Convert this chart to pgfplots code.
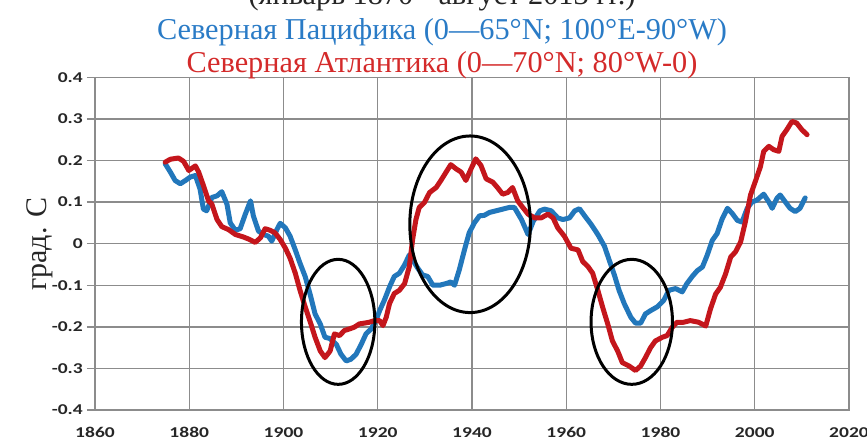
\documentclass[border=0pt]{standalone}
\usepackage{fontspec}
\setmainfont{Liberation Serif}
\newfontfamily\tickfont{Carlito}[FakeStretch=1.3]
\usepackage{graphicx}
\usepackage{pgfplots}
\pgfplotsset{compat=1.18}

\definecolor{pacblue}{HTML}{2277BB}
\definecolor{atlred}{HTML}{C4161C}
\definecolor{titleblue}{HTML}{2A7BC6}
\definecolor{titlered}{HTML}{D42A2A}
\definecolor{gridgray}{HTML}{8C8C8C}

% Smoothed SST anomalies, deg C
\pgfplotstableread{
year val
1874.9 0.192
1876.0 0.172
1877.0 0.152
1878.1 0.144
1879.2 0.152
1880.2 0.160
1881.3 0.164
1882.3 0.131
1883.0 0.083
1883.7 0.079
1884.8 0.111
1885.9 0.115
1886.9 0.125
1888.0 0.095
1888.7 0.050
1889.8 0.032
1890.8 0.036
1891.9 0.071
1893.0 0.103
1893.6 0.067
1894.7 0.030
1895.8 0.022
1896.8 0.018
1897.5 0.006
1898.6 0.034
1899.3 0.049
1900.4 0.038
1901.4 0.018
1902.5 -0.015
1903.5 -0.047
1904.6 -0.079
1905.7 -0.124
1906.7 -0.169
1907.8 -0.193
1908.8 -0.225
1909.8 -0.228
1911.2 -0.242
1912.2 -0.266
1913.3 -0.282
1914.3 -0.278
1915.4 -0.266
1916.5 -0.242
1917.5 -0.217
1918.6 -0.205
1919.6 -0.185
1920.4 -0.161
1921.4 -0.136
1922.5 -0.104
1923.5 -0.079
1924.6 -0.071
1925.7 -0.051
1926.7 -0.027
1927.4 -0.039
1928.5 -0.059
1929.5 -0.075
1930.6 -0.079
1931.7 -0.100
1933.1 -0.100
1934.5 -0.096
1935.5 -0.092
1936.3 -0.100
1937.3 -0.063
1938.4 -0.015
1939.4 0.026
1940.5 0.050
1941.6 0.067
1942.6 0.068
1943.7 0.075
1945.1 0.079
1946.5 0.083
1947.9 0.087
1949.0 0.087
1950.5 0.058
1951.9 0.022
1953.0 0.054
1954.4 0.079
1955.4 0.083
1956.8 0.079
1958.2 0.062
1959.3 0.058
1960.7 0.062
1961.8 0.079
1962.8 0.084
1963.9 0.067
1965.3 0.046
1966.7 0.022
1968.1 -0.006
1969.1 -0.039
1970.2 -0.075
1971.2 -0.112
1972.3 -0.144
1973.7 -0.177
1974.7 -0.191
1975.8 -0.191
1976.8 -0.169
1977.9 -0.161
1979.3 -0.152
1980.7 -0.136
1981.8 -0.112
1983.2 -0.108
1984.6 -0.116
1985.6 -0.096
1986.8 -0.078
1987.8 -0.065
1988.9 -0.056
1989.9 -0.028
1991.0 0.008
1992.0 0.024
1993.1 0.060
1994.2 0.085
1995.2 0.073
1996.3 0.056
1997.3 0.052
1998.4 0.085
1999.4 0.100
2000.5 0.105
2001.9 0.119
2003.0 0.100
2003.7 0.085
2004.7 0.109
2005.4 0.117
2006.5 0.100
2007.5 0.085
2008.6 0.077
2009.6 0.085
2010.7 0.110
}\pacific

\pgfplotstableread{
year val
1874.9 0.196
1876.0 0.203
1877.7 0.206
1878.8 0.198
1879.9 0.176
1881.3 0.187
1882.0 0.172
1883.0 0.140
1884.1 0.103
1884.8 0.095
1885.9 0.058
1886.9 0.041
1888.3 0.034
1889.8 0.022
1891.5 0.016
1892.6 0.011
1894.0 0.003
1895.1 0.014
1896.1 0.036
1897.2 0.032
1898.2 0.026
1899.3 0.010
1900.4 -0.011
1901.4 -0.035
1902.5 -0.071
1903.5 -0.112
1904.6 -0.152
1905.7 -0.189
1906.7 -0.225
1907.8 -0.258
1908.8 -0.274
1909.9 -0.258
1910.8 -0.217
1911.9 -0.221
1912.9 -0.209
1914.0 -0.205
1915.0 -0.201
1916.1 -0.193
1917.2 -0.191
1918.2 -0.189
1919.3 -0.185
1920.4 -0.185
1921.1 -0.197
1921.8 -0.177
1922.5 -0.144
1923.5 -0.120
1924.6 -0.112
1925.7 -0.096
1926.7 -0.055
1927.4 0.010
1928.1 0.058
1928.8 0.087
1929.9 0.099
1931.0 0.123
1932.4 0.135
1933.4 0.152
1934.5 0.172
1935.5 0.190
1936.6 0.180
1937.7 0.172
1938.7 0.152
1939.8 0.180
1940.8 0.204
1941.9 0.188
1943.0 0.156
1944.4 0.148
1945.4 0.135
1946.5 0.119
1947.6 0.123
1948.6 0.135
1949.7 0.103
1950.5 0.091
1951.9 0.071
1953.3 0.062
1954.7 0.062
1956.1 0.071
1957.2 0.062
1958.2 0.038
1959.6 0.018
1961.0 -0.011
1962.5 -0.015
1963.5 -0.043
1964.6 -0.055
1965.6 -0.071
1966.7 -0.112
1967.7 -0.152
1968.8 -0.193
1969.8 -0.234
1970.9 -0.258
1971.9 -0.286
1973.3 -0.294
1974.7 -0.305
1975.8 -0.294
1976.8 -0.274
1977.9 -0.250
1978.9 -0.234
1980.4 -0.225
1981.4 -0.221
1982.5 -0.201
1983.5 -0.189
1984.9 -0.189
1986.3 -0.185
1988.1 -0.189
1989.6 -0.198
1990.6 -0.157
1991.7 -0.121
1992.7 -0.105
1993.8 -0.073
1994.9 -0.032
1995.9 -0.020
1997.0 0.004
1998.0 0.052
1999.1 0.117
2000.1 0.149
2001.2 0.185
2001.9 0.222
2003.0 0.234
2004.0 0.226
2005.1 0.222
2005.8 0.258
2006.8 0.274
2007.9 0.294
2008.9 0.290
2010.0 0.274
2011.1 0.262
}\atlantic

\begin{document}
\begin{tikzpicture}[x=1pt,y=1pt]
\begin{axis}[
  at={(95pt,30pt)}, anchor=south west,
  scale only axis, width=754pt, height=332.7pt,
  xmin=1860, xmax=2020, ymin=-0.4, ymax=0.4,
  xtick={1860,1880,1900,1920,1940,1960,1980,2000,2020},
  xticklabels={1860,1880,1900,1920,1940,1960,1980,2000,2020},
  ytick={-0.4,-0.3,-0.2,-0.1,0,0.1,0.2,0.3,0.4},
  yticklabels={-0.4,-0.3,-0.2,-0.1,0,0.1,0.2,0.3,0.4},
  grid=major,
  major grid style={gridgray, line width=1.4pt},
  axis line style={gridgray, line width=1.4pt},
  ytick style={gridgray, line width=1.4pt},
  xtick style={draw=none},
  ytick pos=left, tick align=outside, major tick length=8pt,
  ticklabel style={font=\tickfont\bfseries\fontsize{15pt}{15pt}\selectfont, text=black!85},
  yticklabel style={anchor=east, inner sep=0pt, xshift=-4pt},
  xticklabel style={anchor=base, inner sep=0pt, yshift=-19pt},
]
\addplot[pacblue, line width=5pt, line join=round, line cap=round] table[x=year, y=val] {\pacific};
\addplot[atlred, line width=5pt, line join=round, line cap=round] table[x=year, y=val] {\atlantic};
% highlighted episodes
\draw[black, line width=3pt] (axis cs:1911.6,-0.188) ellipse [x radius=36.7pt, y radius=62.5pt];
\draw[black, line width=3pt] (axis cs:1939.6,0.0466) ellipse [x radius=60.3pt, y radius=88.3pt];
\draw[black, line width=3pt] (axis cs:1973.9,-0.188) ellipse [x radius=40.7pt, y radius=62.5pt];
\end{axis}
\node[anchor=base, font=\fontsize{30.3pt}{32pt}\selectfont, text=black!85] at (442,435) {(январь 1870 - август 2013 гг.)};
\node[anchor=base, font=\fontsize{30.3pt}{32pt}\selectfont, text=titleblue] at (442,400.7) {Северная Пацифика (0—65°N; 100°E-90°W)};
\node[anchor=base, font=\fontsize{30.3pt}{32pt}\selectfont, text=titlered] at (442,367.3) {Северная Атлантика (0—70°N; 80°W-0)};
\node[rotate=90, anchor=base, font=\fontsize{30pt}{32pt}\selectfont, text=black!85] at (46,196) {град. С};
\pgfresetboundingbox
\useasboundingbox (0,0) rectangle (867,440);
\end{tikzpicture}
\end{document}
